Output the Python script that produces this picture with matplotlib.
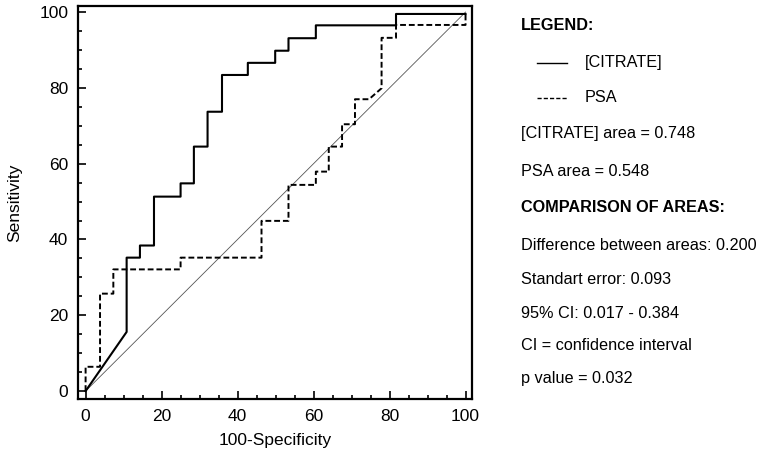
import matplotlib
matplotlib.use('Agg')
import matplotlib.pyplot as plt
from matplotlib.lines import Line2D
from matplotlib.ticker import MultipleLocator

plt.rcParams['font.family'] = ['Liberation Sans', 'DejaVu Sans']

# ROC curve vertices (100-specificity, sensitivity)
citrate_x = [0, 10.8, 10.8, 14.3, 14.3, 18.0, 18.0, 25.0, 25.0, 28.5, 28.5, 32.1, 32.1,
             35.9, 35.9, 42.7, 42.7, 49.9, 49.9, 53.4, 53.4, 60.6, 60.6, 81.7, 81.7, 100]
citrate_y = [0, 15.6, 35.2, 35.2, 38.4, 38.4, 51.3, 51.3, 54.8, 54.8, 64.5, 64.5, 73.7,
             73.7, 83.4, 83.4, 86.6, 86.6, 89.8, 89.8, 93.1, 93.1, 96.5, 96.5, 99.5, 99.5]

psa_x = [0, 0, 3.8, 3.8, 7.3, 7.3, 25.0, 25.0, 46.3, 46.3, 53.4, 53.4, 60.6, 60.6, 64.0,
         64.0, 67.5, 67.5, 70.9, 70.9, 74.6, 77.9, 77.9, 81.7, 81.7, 100, 100]
psa_y = [0, 6.4, 6.4, 25.7, 25.7, 32.1, 32.1, 35.2, 35.2, 44.9, 44.9, 54.4, 54.4, 57.9, 57.9,
         64.5, 64.5, 70.4, 70.4, 77.0, 77.0, 79.9, 93.2, 93.2, 96.6, 96.6, 99.5]

diag = [0, 100]

ticks = [0, 20, 40, 60, 80, 100]

legend_labels = ['[CITRATE]', 'PSA']
stats_lines = ['[CITRATE] area = 0.748', 'PSA area = 0.548']
comparison_lines = ['Difference between areas: 0.200', 'Standart error: 0.093',
                    '95% CI: 0.017 - 0.384', 'CI = confidence interval', 'p value = 0.032']

W, H = 761, 455
fig = plt.figure(figsize=(W / 100, H / 100), dpi=100)
ax = fig.add_axes([78 / W, 1 - 399 / H, (472 - 78) / W, (399 - 6) / H])

ax.plot(diag, diag, color='#555555', lw=0.6)
ax.plot(citrate_x, citrate_y, color='black', lw=1.5, linestyle='-')
ax.plot(psa_x, psa_y, color='black', lw=1.4, linestyle=(0, (3, 1.5)))

ax.set_xlim(-2, 101.7)
ax.set_ylim(-2.1, 101.6)
ax.set_xticks(ticks)
ax.set_yticks(ticks)
ax.xaxis.set_minor_locator(MultipleLocator(5))
ax.yaxis.set_minor_locator(MultipleLocator(5))
ax.tick_params(which='both', direction='in', top=False, right=False, width=1.2, labelsize=12.5)
ax.tick_params(which='major', length=6, pad=7)
ax.tick_params(which='minor', length=3)
for s in ax.spines.values():
    s.set_linewidth(1.6)

ax.set_xlabel('100-Specificity', fontsize=12.5, labelpad=7)
ax.set_ylabel('Sensitivity', fontsize=12.5, labelpad=12)

# text panel on the right
fs = 11.7
x0 = 521 / W
def fy(py):
    return 1 - py / H

fig.text(x0, fy(25), 'LEGEND:', fontsize=fs, fontweight='bold', va='center')
styles = ['-', (0, (3, 1.5))]
for py, lab, ls in zip([63, 98], legend_labels, styles):
    fig.add_artist(Line2D([537 / W, 567 / W], [fy(py), fy(py)], color='black', lw=1.0,
                          linestyle=ls, transform=fig.transFigure))
    fig.text(585 / W, fy(py), lab, fontsize=fs, va='center')
for py, t in zip([133, 171], stats_lines):
    fig.text(x0, fy(py), t, fontsize=fs, va='center')
fig.text(x0, fy(208), 'COMPARISON OF AREAS:', fontsize=fs, fontweight='bold', va='center')
for py, t in zip([246, 280, 313, 346, 379], comparison_lines):
    fig.text(x0, fy(py), t, fontsize=fs, va='center')

fig.savefig('out.png', dpi=100)
